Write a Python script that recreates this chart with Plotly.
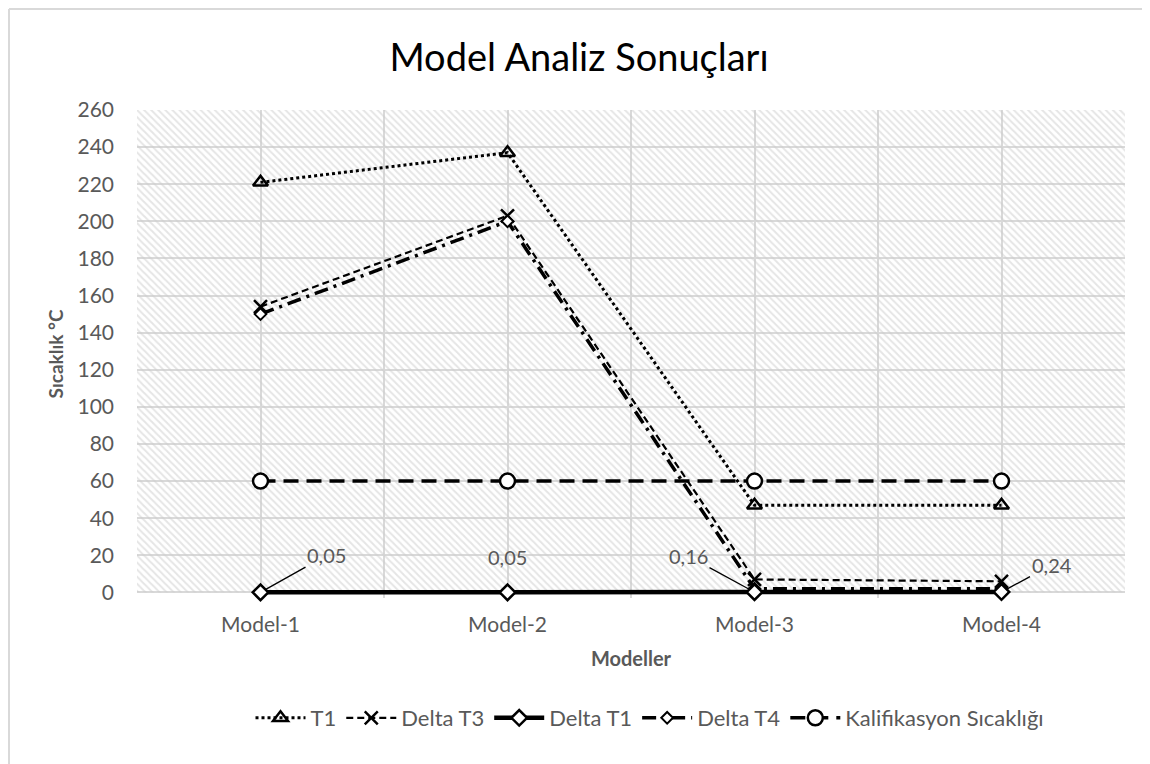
import plotly.graph_objects as go

categories = ["Model-1", "Model-2", "Model-3", "Model-4"]
t1 = [221, 237, 47, 47]
delta_t3 = [154, 203, 7, 6]
delta_t1 = [0.05, 0.05, 0.16, 0.24]
delta_t4 = [150, 200, 2, 2]
kalifikasyon = [60, 60, 60, 60]

y_ticks = list(range(0, 261, 20))

FONT = "Lato"
GREY = "#595959"
GRID = "#d9d9d9"

W, H = 1142, 756      # page adds an 8px body margin
OFF = 8

xs = list(range(len(categories)))
x_range = [-0.5, len(categories) - 0.5]
y_range = [-3, y_ticks[-1]]

fig = go.Figure()

# hatched plot background
fig.add_trace(go.Scatter(
    x=[x_range[0], x_range[1], x_range[1], x_range[0], x_range[0]],
    y=[y_ticks[0], y_ticks[0], y_ticks[-1], y_ticks[-1], y_ticks[0]],
    mode="lines", line=dict(width=0), fill="toself",
    fillcolor="rgba(0,0,0,0)",
    fillpattern=dict(shape="\\", fgcolor="#cccccc", bgcolor="rgba(0,0,0,0)",
                     size=5, solidity=0.4),
    hoverinfo="skip", showlegend=False))

fig.add_trace(go.Scatter(
    x=xs, y=kalifikasyon, name="Kalifikasyon Sıcaklığı", mode="lines+markers",
    line=dict(color="black", width=3.5, dash="15px,8px"),
    marker=dict(symbol="circle", size=15, color="white", line=dict(color="black", width=2.5)),
    legendrank=5, cliponaxis=False))

fig.add_trace(go.Scatter(
    x=xs, y=t1, name="T1", mode="lines+markers",
    line=dict(color="black", width=3, dash="dot"),
    marker=dict(symbol="triangle-up-open", size=13, color="black", line=dict(color="black", width=2.5)),
    legendrank=1, cliponaxis=False))

fig.add_trace(go.Scatter(
    x=xs, y=delta_t3, name="Delta T3", mode="lines+markers",
    line=dict(color="black", width=2.2, dash="7px,4px"),
    marker=dict(symbol="x-thin-open", size=13, color="black", line=dict(color="black", width=2.5)),
    legendrank=2, cliponaxis=False))

fig.add_trace(go.Scatter(
    x=xs, y=delta_t4, name="Delta T4", mode="lines+markers",
    line=dict(color="black", width=3.5, dash="14px,6px,3px,6px"),
    marker=dict(symbol="diamond", size=9, color="white", line=dict(color="black", width=2)),
    legendrank=4, cliponaxis=False))

fig.add_trace(go.Scatter(
    x=xs, y=delta_t1, name="Delta T1", mode="lines+markers",
    line=dict(color="black", width=4.5),
    marker=dict(symbol="diamond", size=12, color="white", line=dict(color="black", width=2.5)),
    legendrank=3, cliponaxis=False))

# data labels for Delta T1
offsets = [(66, -37, True), (0, -35, False), (-66, -36, True), (50, -27, True)]
for xi, v, (ax, ay, arrow) in zip(xs, delta_t1, offsets):
    txt = f"{v:.2f}".replace(".", ",")
    if arrow:
        fig.add_annotation(x=xi, y=v, text=txt, showarrow=True, arrowhead=0,
                           arrowwidth=1.3, arrowcolor="black", ax=ax, ay=ay,
                           standoff=5, font=dict(family=FONT, size=20, color=GREY))
    else:
        fig.add_annotation(x=xi, y=v, text=txt, showarrow=False, yshift=-ay,
                           font=dict(family=FONT, size=20, color=GREY))

plot_l, plot_r, plot_t, plot_b = 137, 1125, 110, 592 + 3 * 482 / 260

fig.update_layout(
    width=W, height=H,
    paper_bgcolor="white", plot_bgcolor="white",
    margin=dict(l=plot_l - OFF, r=OFF + W - plot_r, t=plot_t - OFF, b=OFF + H - plot_b,
                autoexpand=False),
    title=dict(text="Model Analiz Sonuçları", x=(579 - OFF) / W, xanchor="center",
               xref="container", y=1 - (58 - OFF) / H, yanchor="middle", yref="container",
               font=dict(family=FONT, size=38, color="black")),
    font=dict(family=FONT, color=GREY),
    showlegend=True,
    legend=dict(orientation="h", x=(650 - OFF) / W, xanchor="center", xref="container",
                y=1 - (718 - OFF) / H, yanchor="middle", yref="container",
                font=dict(family=FONT, size=22, color=GREY),
                traceorder="normal", itemwidth=50,
                bgcolor="rgba(0,0,0,0)"),
    shapes=[
        dict(type="line", xref="paper", yref="paper",
             x0=-(plot_l - OFF - 1) / (plot_r - plot_l), x1=-(plot_l - OFF - 1) / (plot_r - plot_l),
             y0=-(OFF + H - plot_b) / (plot_b - plot_t), y1=1 + (plot_t - OFF - 1) / (plot_b - plot_t),
             line=dict(color=GRID, width=2)),
        dict(type="line", xref="paper", yref="paper",
             x0=-(plot_l - OFF - 1) / (plot_r - plot_l), x1=1 + (OFF + W - plot_r) / (plot_r - plot_l),
             y0=1 + (plot_t - OFF - 1) / (plot_b - plot_t), y1=1 + (plot_t - OFF - 1) / (plot_b - plot_t),
             line=dict(color=GRID, width=2)),
    ],
)

fig.update_xaxes(
    range=x_range, tickmode="array", tickvals=xs, ticktext=categories,
    showgrid=True, gridcolor=GRID, gridwidth=1.5, zeroline=False,
    minor=dict(tickmode="linear", tick0=-0.5, dtick=0.5, showgrid=True, gridcolor=GRID, gridwidth=1.5),
    showline=False, ticks="", automargin=False, ticklabelstandoff=12,
    tickfont=dict(family=FONT, size=21, color=GREY),
    title=dict(text="<b>Modeller</b>", font=dict(family=FONT, size=20, color=GREY), standoff=16),
)
fig.update_yaxes(
    range=y_range, tickmode="array", tickvals=y_ticks,
    showgrid=True, gridcolor=GRID, gridwidth=1.5,
    zeroline=True, zerolinecolor=GRID, zerolinewidth=2,
    showline=False, ticks="", automargin=False, ticklabelstandoff=22,
    tickfont=dict(family=FONT, size=21, color=GREY),
    title=dict(text="<b>Sıcaklık °C</b>", font=dict(family=FONT, size=19, color=GREY), standoff=8),
)

fig.write_html("out.html")
